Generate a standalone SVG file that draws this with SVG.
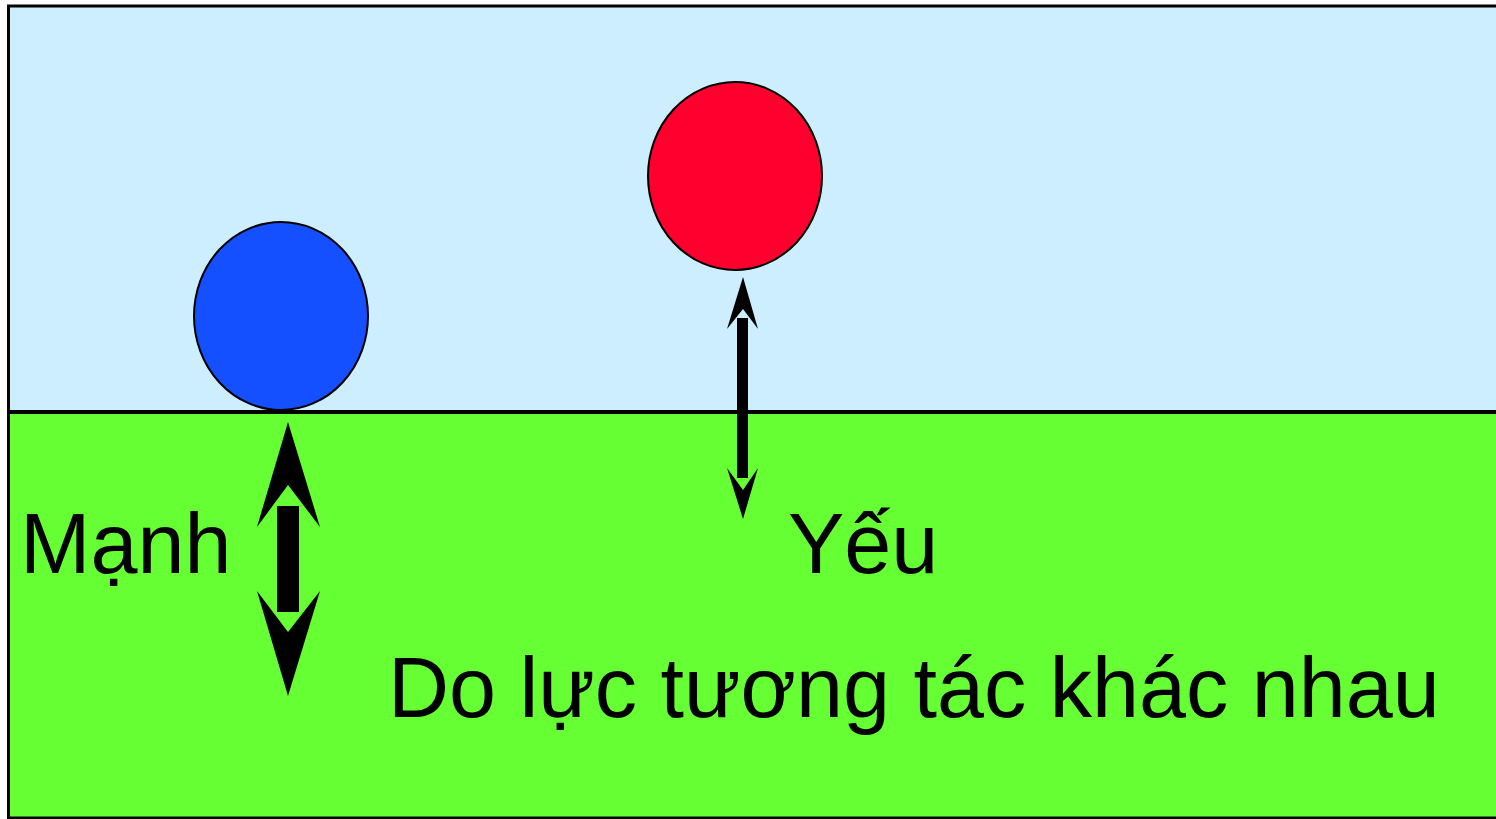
<svg xmlns="http://www.w3.org/2000/svg" width="1496" height="819" viewBox="0 0 1496 819">
<style>
.t{font-family:"Liberation Sans",Arial,sans-serif;font-size:84.5px;fill:#000}
.ar{fill:#000;stroke:none}
</style>
<rect x="0" y="0" width="1496" height="819" fill="#fff"/>
<g id="sky"><rect x="8.5" y="6" width="1490" height="406" fill="#cceeff" stroke="#000" stroke-width="3"/></g>
<g id="ground"><rect x="8.5" y="412" width="1490" height="406" fill="#66ff33" stroke="#000" stroke-width="3"/></g>
<line x1="8" y1="412" x2="1496" y2="412" stroke="#000" stroke-width="4"/>
<g id="blue-ball"><ellipse cx="281" cy="316" rx="87" ry="94" fill="#1450ff" stroke="#000" stroke-width="2"/></g>
<g id="red-ball"><ellipse cx="735" cy="176" rx="87" ry="94" fill="#ff002e" stroke="#000" stroke-width="2"/></g>
<g id="connectors">
<g id="strong-arrow">
<polygon class="ar" points="288,422 320,527 288,485 257,527"/>
<rect class="ar" x="277" y="506" width="22" height="106"/>
<polygon class="ar" points="288,696 320,591 288,632 257,591"/>
</g>
<g id="weak-arrow">
<polygon class="ar" points="743,277 758,329 743,309 727,329"/>
<rect class="ar" x="737" y="318" width="11" height="160"/>
<polygon class="ar" points="743,519 758,468 743,490 727,468"/>
</g>
</g>
<g id="labels">
<text class="t" x="20" y="573">Mạnh</text>
<text class="t" x="788" y="573">Yếu</text>
<text class="t" x="388" y="717">Do lực tương tác khác nhau</text>
</g>
</svg>
